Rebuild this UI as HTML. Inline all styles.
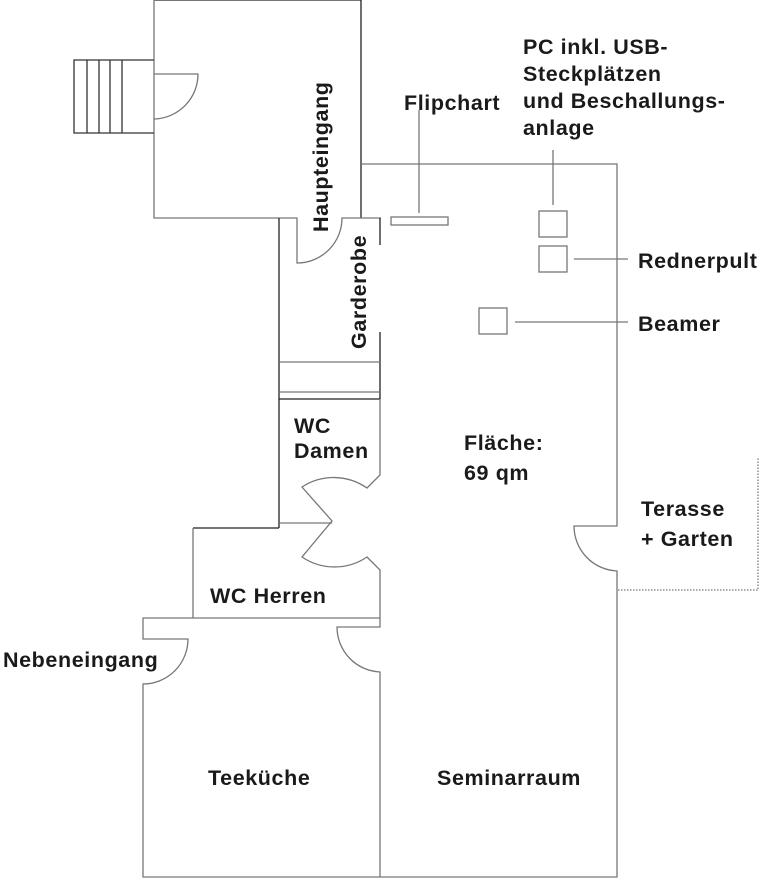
<!DOCTYPE html>
<html><head><meta charset="utf-8"><style>
body{margin:0;background:#fff;width:761px;height:878px;overflow:hidden}
text{font-family:"Liberation Sans",sans-serif;font-size:21.5px;font-weight:bold;fill:#1a1a1a;letter-spacing:0.6px}
</style></head><body>
<svg width="761" height="878" viewBox="0 0 761 878" xmlns="http://www.w3.org/2000/svg">
<g fill="none" stroke="#777" stroke-width="1.3">
<path d="M154,0 H361 V218" stroke="#222"/>
<path d="M154,0 V218 H297 V263 A45,45 0 0 0 342,218 H381"/>
<path d="M361,164 H617 V526 H574 A45,45 0 0 0 617,571 V877 H143 V684 A45,45 0 0 0 188,639 H143 V618 H380"/>
<path d="M154,60 H74 V133 H154 M87,60 V133 M99,60 V133 M110,60 V133 M122,60 V133" stroke="#333"/>
<path d="M154,74 H198 A45,45 0 0 1 154,119"/>
<path d="M279,218 V528 M279,528 H193" stroke="#222"/>
<path d="M193,528 V618"/>
<path d="M380,218 V245 M380,332 V399" stroke="#222"/>
<path d="M279,362 H380 M279,392 H380"/>
<path d="M279,399 H380" stroke="#222"/>
<path d="M380,399 V475 L367,488 A58,58 0 0 0 302,487 L332,521 L302,557 A58,58 0 0 0 367,557 L380,570 V618"/>
<path d="M279,523 H332"/>
<path d="M380,618 V627 H337 A45,45 0 0 0 380,672 V877"/>
<rect x="391" y="217" width="57" height="8"/>
<path d="M419,110 V213"/>
<rect x="539" y="211" width="28" height="26"/>
<rect x="539" y="246" width="28" height="26"/>
<path d="M553,150 V205 M574,259 H628"/>
<rect x="479" y="308" width="28" height="26"/>
<path d="M515,322 H628"/>
</g>
<path d="M618,590 H758 V458" fill="none" stroke="#555" stroke-dasharray="1.5,1.5"/>
<text x="523" y="54">PC inkl. USB-</text>
<text x="523" y="81">Steckplätzen</text>
<text x="523" y="108">und Beschallungs-</text>
<text x="523" y="135">anlage</text>
<text x="404" y="110">Flipchart</text>
<text x="638" y="268">Rednerpult</text>
<text x="638" y="331">Beamer</text>
<text x="464" y="450">Fläche:</text>
<text x="464" y="480">69 qm</text>
<text x="641" y="516">Terasse</text>
<text x="641" y="546">+ Garten</text>
<text x="294" y="433">WC</text>
<text x="294" y="458">Damen</text>
<text x="210" y="603">WC Herren</text>
<text x="3" y="667">Nebeneingang</text>
<text x="208" y="785">Teeküche</text>
<text x="437" y="785">Seminarraum</text>
<text transform="translate(328,232) rotate(-90)">Haupteingang</text>
<text transform="translate(366,349) rotate(-90)">Garderobe</text>
</svg>
</body></html>
